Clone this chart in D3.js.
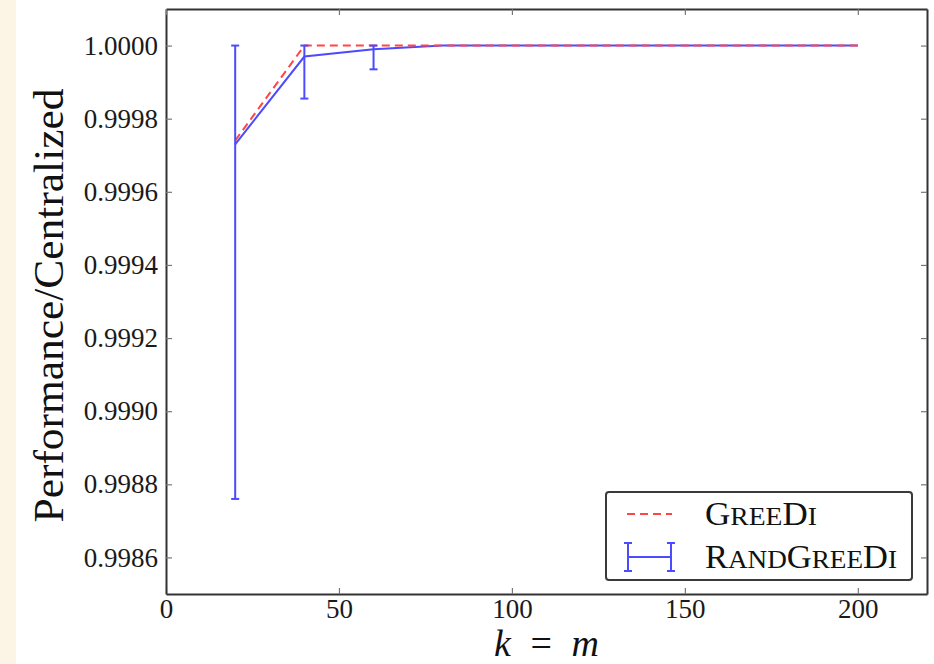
<!DOCTYPE html>
<html>
<head>
<meta charset="utf-8">
<title>Performance / Centralized</title>
<script src="https://cdn.jsdelivr.net/npm/d3@7"></script>
<style>
  body { margin: 0; background: #fff; }
  svg { display: block; }
  text { font-family: "Liberation Serif", "DejaVu Serif", serif; }
  .tick text { fill: #1a1a1a; }
</style>
</head>
<body>
<svg id="chart" width="934" height="664"></svg>
<script>
// values
const ks = [20, 40, 60, 80, 100, 120, 140, 160, 180, 200];
const greedi = [0.99974, 1.0, 1.0, 1.0, 1.0, 1.0, 1.0, 1.0, 1.0, 1.0];
const randGreedi = [0.99973, 0.99997, 0.99999, 1.0, 1.0, 1.0, 1.0, 1.0, 1.0, 1.0];
const randLow = [0.99876, 0.999855, 0.999935, 1.0, 1.0, 1.0, 1.0, 1.0, 1.0, 1.0];
const randHigh = [1.0, 1.0, 1.0, 1.0, 1.0, 1.0, 1.0, 1.0, 1.0, 1.0];

const xTicks = [0, 50, 100, 150, 200];
const yTicks = [0.9986, 0.9988, 0.9990, 0.9992, 0.9994, 0.9996, 0.9998, 1.0000];

const svg = d3.select("#chart");

// beige strip on the left edge
svg.append("rect").attr("x", 0).attr("y", 0).attr("width", 16).attr("height", 664)
  .attr("fill", "#fcf4e5");

const plotL = 166, plotR = 927, plotT = 9, plotB = 594;

const x = d3.scaleLinear().domain([0, 220]).range([plotL, plotR]);
const y = d3.scaleLinear().domain([0.9985, 1.0001]).range([plotB, plotT]);

// axes, ticks pointing inward on all four sides
const gx = svg.append("g").attr("transform", `translate(0,${plotB})`)
  .call(d3.axisBottom(x).tickValues(xTicks).tickFormat(d3.format("d"))
    .tickSizeInner(-6).tickSizeOuter(0).tickPadding(5));
const gy = svg.append("g").attr("transform", `translate(${plotL},0)`)
  .call(d3.axisLeft(y).tickValues(yTicks).tickFormat(d3.format(".4f"))
    .tickSizeInner(-6).tickSizeOuter(0).tickPadding(8));
const gt = svg.append("g").attr("transform", `translate(0,${plotT})`)
  .call(d3.axisTop(x).tickValues(xTicks).tickFormat("").tickSizeInner(-6).tickSizeOuter(0));
const gr = svg.append("g").attr("transform", `translate(${plotR},0)`)
  .call(d3.axisRight(y).tickValues(yTicks).tickFormat("").tickSizeInner(-6).tickSizeOuter(0));

[gx, gy, gt, gr].forEach(g => {
  g.select(".domain").attr("stroke", "#333").attr("stroke-width", 2);
  g.selectAll(".tick line").attr("stroke", "#777").attr("stroke-width", 1.2);
  g.selectAll(".tick text")
    .style("font-family", "'Liberation Serif', 'DejaVu Serif', serif")
    .style("font-size", "27px");
});

// data lines
const line = d3.line().x(d => x(d[0])).y(d => y(d[1]));

svg.append("path")
  .datum(ks.map((k, i) => [k, randGreedi[i]]))
  .attr("d", line)
  .attr("fill", "none")
  .attr("stroke", "#4b4bff")
  .attr("stroke-width", 2);

svg.append("path")
  .datum(ks.map((k, i) => [k, greedi[i]]))
  .attr("d", line)
  .attr("fill", "none")
  .attr("stroke", "#ff4545")
  .attr("stroke-width", 2)
  .attr("stroke-dasharray", "8,5");

// error bars
const bars = ks.map((k, i) => ({k, lo: randLow[i], hi: randHigh[i]})).filter(d => d.hi > d.lo);
const eb = svg.append("g").attr("stroke", "#4b4bff").attr("stroke-width", 2);
eb.selectAll("line.v").data(bars).join("line")
  .attr("x1", d => x(d.k)).attr("x2", d => x(d.k))
  .attr("y1", d => y(d.lo)).attr("y2", d => y(d.hi));
eb.selectAll("line.lo").data(bars).join("line")
  .attr("x1", d => x(d.k) - 4).attr("x2", d => x(d.k) + 4)
  .attr("y1", d => y(d.lo)).attr("y2", d => y(d.lo));
eb.selectAll("line.hi").data(bars).join("line")
  .attr("x1", d => x(d.k) - 4).attr("x2", d => x(d.k) + 4)
  .attr("y1", d => y(d.hi)).attr("y2", d => y(d.hi));

// axis labels
svg.append("text")
  .attr("transform", `translate(63,${(plotT + plotB) / 2 + 4}) rotate(-90)`)
  .attr("text-anchor", "middle")
  .attr("textLength", 434)
  .attr("lengthAdjust", "spacingAndGlyphs")
  .style("font-size", "43px")
  .attr("fill", "#111")
  .text("Performance/Centralized");

const xl = svg.append("text")
  .attr("x", (plotL + plotR) / 2).attr("y", 655.5)
  .attr("text-anchor", "middle")
  .style("font-size", "38px")
  .attr("fill", "#111");
xl.append("tspan").style("font-style", "italic").text("k");
xl.append("tspan").attr("dx", 10).text(" = ");
xl.append("tspan").attr("dx", 10).style("font-style", "italic").text("m");

// legend
const lg = svg.append("g");
lg.append("rect").attr("x", 606).attr("y", 492).attr("width", 306).attr("height", 88)
  .attr("rx", 3).attr("fill", "#fff").attr("stroke", "#3a3a3a").attr("stroke-width", 2);

lg.append("line").attr("x1", 627).attr("x2", 672).attr("y1", 514).attr("y2", 514)
  .attr("stroke", "#ff4545").attr("stroke-width", 2).attr("stroke-dasharray", "8,5");

lg.append("line").attr("x1", 628).attr("x2", 671).attr("y1", 557).attr("y2", 557)
  .attr("stroke", "#4b4bff").attr("stroke-width", 2);
[628, 671].forEach(cx => {
  lg.append("line").attr("x1", cx).attr("x2", cx).attr("y1", 543).attr("y2", 571)
    .attr("stroke", "#4b4bff").attr("stroke-width", 2);
  [543, 571].forEach(cy => lg.append("line").attr("x1", cx - 4).attr("x2", cx + 4)
    .attr("y1", cy).attr("y2", cy).attr("stroke", "#4b4bff").attr("stroke-width", 2));
});

// small caps built from two sizes
function smallCaps(sel, parts) {
  parts.forEach(p => sel.append("tspan").style("font-size", p[1] ? "33px" : "26px").text(p[0]));
}
const t1 = lg.append("text").attr("x", 705).attr("y", 525)
  .attr("textLength", 112).attr("lengthAdjust", "spacingAndGlyphs").attr("fill", "#111");
smallCaps(t1, [["G", 1], ["REE", 0], ["D", 1], ["I", 0]]);
const t2 = lg.append("text").attr("x", 705).attr("y", 568)
  .attr("textLength", 192).attr("lengthAdjust", "spacingAndGlyphs").attr("fill", "#111");
smallCaps(t2, [["R", 1], ["AND", 0], ["G", 1], ["REE", 0], ["D", 1], ["I", 0]]);
</script>
</body>
</html>
